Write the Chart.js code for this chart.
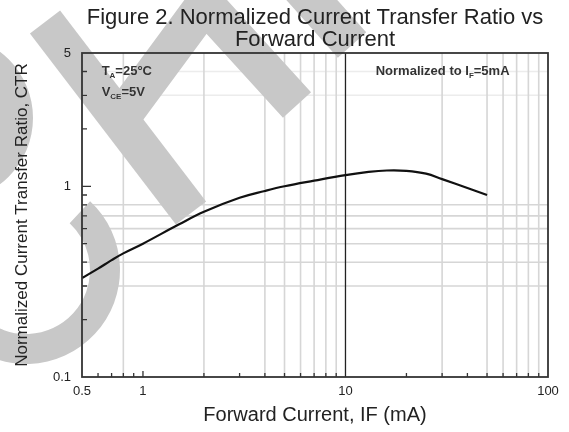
<!DOCTYPE html>
<html>
<head>
<meta charset="utf-8">
<title>Figure 2. Normalized Current Transfer Ratio vs Forward Current</title>
<script src="https://cdn.jsdelivr.net/npm/chart.js@4.4.1/dist/chart.umd.min.js"></script>
<style>
  html, body { margin: 0; padding: 0; background: #fff; }
  canvas { display: block; }
</style>
</head>
<body>
<canvas id="grafico" width="569" height="432"></canvas>
<script>
// dados (IF em mA, CTR normalizado)
const correnteIF = [0.5, 0.6, 0.7, 0.8, 1, 1.5, 2, 3, 4, 5, 7, 10, 13, 16, 20, 25, 30, 40, 50];
const ctrNormalizado = [0.33, 0.37, 0.41, 0.445, 0.50, 0.63, 0.735, 0.87, 0.945, 1.0, 1.07, 1.145, 1.19, 1.21, 1.205, 1.165, 1.09, 0.98, 0.90];

// eixos
const ticksX = [0.5, 0.6, 0.7, 0.8, 0.9, 1, 2, 3, 4, 5, 6, 7, 8, 9, 10, 20, 30, 40, 50, 60, 70, 80, 90, 100];
const rotulosX = [0.5, 1, 10, 100];
const gradeX = [0.8, 2, 4, 5, 6, 7, 8, 9, 30, 50, 60, 70, 80, 90];
const linhaEscuraX = [10];
const ticksY = [0.1, 0.2, 0.3, 0.4, 0.5, 0.6, 0.7, 0.8, 0.9, 1, 2, 3, 4, 5];
const rotulosY = [0.1, 1, 5];
const gradeY = [0.3, 0.4, 0.5, 0.6, 0.7, 0.8];
const gradeYFraca = [3, 4];

const FONTE = "'Liberation Sans', Arial, sans-serif";
const COR_TEXTO = '#222';

// marca d'agua cinza (decorativa, em pixels)
const marcaDagua = {
    faixas: [
        [[45, 22], [191, 213]],
        [[118, 122], [205, 4], [297, 105]],
        [[285, -30], [352, 45]]
    ],
    aneis: [
        { cx: 26, cy: 270, rExt: 94, rInt: 64, ini: -47, fim: 200 },
        { cx: -50, cy: 118, rExt: 83, rInt: 40, ini: -90, fim: 90 }
    ]
};

// texto com subscrito: partes = [[texto, ehSub], ...]
function textoComSub(ctx, x, y, partes, tamanho) {
    let cx = x;
    partes.forEach(p => {
        const sub = p[1];
        ctx.font = `bold ${sub ? Math.round(tamanho * 0.6) : tamanho}px ${FONTE}`;
        ctx.fillText(p[0], cx, sub ? y + tamanho * 0.3 : y);
        cx += ctx.measureText(p[0]).width;
    });
}

const pluginGrade = {
    id: 'grade',
    beforeDatasetsDraw(chart) {
        const ctx = chart.ctx;
        const area = chart.chartArea;
        const xs = chart.scales.x;
        const ys = chart.scales.y;

        ctx.save();
        ctx.lineWidth = 1.6;
        ctx.strokeStyle = '#ececec';
        ctx.beginPath();
        gradeYFraca.forEach(v => {
            const py = ys.getPixelForValue(v);
            ctx.moveTo(area.left, py);
            ctx.lineTo(area.right, py);
        });
        ctx.stroke();

        ctx.strokeStyle = '#d6d6d6';
        ctx.beginPath();
        gradeX.forEach(v => {
            const px = xs.getPixelForValue(v);
            ctx.moveTo(px, area.top);
            ctx.lineTo(px, area.bottom);
        });
        gradeY.forEach(v => {
            const py = ys.getPixelForValue(v);
            ctx.moveTo(area.left, py);
            ctx.lineTo(area.right, py);
        });
        ctx.stroke();

        ctx.strokeStyle = '#222';
        ctx.lineWidth = 1.3;
        ctx.beginPath();
        linhaEscuraX.forEach(v => {
            const px = xs.getPixelForValue(v);
            ctx.moveTo(px, area.top);
            ctx.lineTo(px, area.bottom);
        });
        ctx.stroke();
        ctx.restore();
    }
};

const pluginMoldura = {
    id: 'moldura',
    afterDraw(chart) {
        const ctx = chart.ctx;
        const area = chart.chartArea;
        const xs = chart.scales.x;
        const ys = chart.scales.y;

        ctx.save();
        // ticks internos
        ctx.strokeStyle = '#333';
        ctx.lineWidth = 1.3;
        ctx.beginPath();
        ticksX.forEach(v => {
            if (v === 0.5 || v === 100 || linhaEscuraX.includes(v)) return;
            const px = xs.getPixelForValue(v);
            const len = rotulosX.includes(v) ? 6 : 4;
            ctx.moveTo(px, area.bottom);
            ctx.lineTo(px, area.bottom - len);
        });
        ticksY.forEach(v => {
            if (v === 0.1 || v === 5) return;
            const py = ys.getPixelForValue(v);
            const len = v === 1 ? 9 : 5;
            ctx.moveTo(area.left, py);
            ctx.lineTo(area.left + len, py);
        });
        ctx.stroke();

        // borda
        ctx.strokeStyle = '#333';
        ctx.lineWidth = 1.8;
        ctx.strokeRect(area.left, area.top, area.right - area.left, area.bottom - area.top);

        // anotacoes
        ctx.fillStyle = '#333';
        ctx.textBaseline = 'middle';
        ctx.textAlign = 'left';
        textoComSub(ctx, xs.getPixelForValue(0.625), ys.getPixelForValue(4.0),
            [['T', false], ['A', true], ['=25°C', false]], 13);
        textoComSub(ctx, xs.getPixelForValue(0.625), ys.getPixelForValue(3.1),
            [['V', false], ['CE', true], ['=5V', false]], 13);
        textoComSub(ctx, xs.getPixelForValue(14.1), ys.getPixelForValue(4.0),
            [['Normalized to I', false], ['F', true], ['=5mA', false]], 13);
        ctx.restore();

        // marca d'agua
        ctx.save();
        ctx.globalCompositeOperation = 'darken';
        ctx.strokeStyle = '#c8c8c8';
        ctx.fillStyle = '#c8c8c8';
        ctx.lineWidth = 38;
        ctx.lineCap = 'butt';
        ctx.lineJoin = 'miter';
        marcaDagua.faixas.forEach(f => {
            ctx.beginPath();
            ctx.moveTo(f[0][0], f[0][1]);
            for (let i = 1; i < f.length; i++) ctx.lineTo(f[i][0], f[i][1]);
            ctx.stroke();
        });
        marcaDagua.aneis.forEach(a => {
            const ini = a.ini * Math.PI / 180;
            const fim = a.fim * Math.PI / 180;
            ctx.beginPath();
            ctx.arc(a.cx, a.cy, a.rExt, ini, fim, false);
            ctx.arc(a.cx, a.cy, a.rInt, fim, ini, true);
            ctx.closePath();
            ctx.fill();
        });
        ctx.restore();
    }
};

const ctx = document.getElementById('grafico').getContext('2d');
const grafico = new Chart(ctx, {
    type: 'line',
    data: {
        datasets: [{
            data: correnteIF.map((v, i) => ({ x: v, y: ctrNormalizado[i] })),
            borderColor: '#111',
            borderWidth: 2.2,
            pointRadius: 0,
            tension: 0.4,
            fill: false
        }]
    },
    options: {
        responsive: false,
        animation: false,
        layout: { padding: { left: 0, right: 21, top: 0, bottom: 0 } },
        plugins: {
            legend: { display: false },
            tooltip: { enabled: false },
            title: {
                display: true,
                fullSize: false,
                text: ['Figure 2. Normalized Current Transfer Ratio vs', 'Forward Current'],
                color: COR_TEXTO,
                font: { family: FONTE, size: 22, weight: 'normal', lineHeight: 1.0 },
                padding: { top: 7, bottom: 2 }
            }
        },
        scales: {
            x: {
                type: 'logarithmic',
                position: 'bottom',
                min: 0.5,
                max: 100,
                afterBuildTicks: s => { s.ticks = ticksX.map(v => ({ value: v })); },
                afterFit: s => { s.height = 55; },
                border: { display: false },
                grid: { display: false, drawTicks: false },
                ticks: {
                    autoSkip: false,
                    maxRotation: 0,
                    padding: 7,
                    color: COR_TEXTO,
                    font: { family: FONTE, size: 13 },
                    callback: v => rotulosX.includes(v) ? String(v) : ''
                },
                title: {
                    display: true,
                    text: 'Forward Current, IF (mA)',
                    color: COR_TEXTO,
                    font: { family: FONTE, size: 20, lineHeight: 1.2 },
                    padding: { top: 0, bottom: 5 }
                }
            },
            y: {
                type: 'logarithmic',
                position: 'left',
                min: 0.1,
                max: 5,
                afterBuildTicks: s => { s.ticks = ticksY.map(v => ({ value: v })); },
                afterFit: s => { s.width = 82; },
                border: { display: false },
                grid: { display: false, drawTicks: false },
                ticks: {
                    autoSkip: false,
                    padding: 11,
                    color: COR_TEXTO,
                    font: { family: FONTE, size: 13 },
                    callback: v => rotulosY.includes(v) ? String(v) : ''
                },
                title: {
                    display: true,
                    text: 'Normalized Current Transfer Ratio, CTR',
                    color: COR_TEXTO,
                    font: { family: FONTE, size: 17, lineHeight: 1.2 },
                    padding: { top: 12, bottom: 0 }
                }
            }
        }
    },
    plugins: [pluginGrade, pluginMoldura]
});
</script>
</body>
</html>
